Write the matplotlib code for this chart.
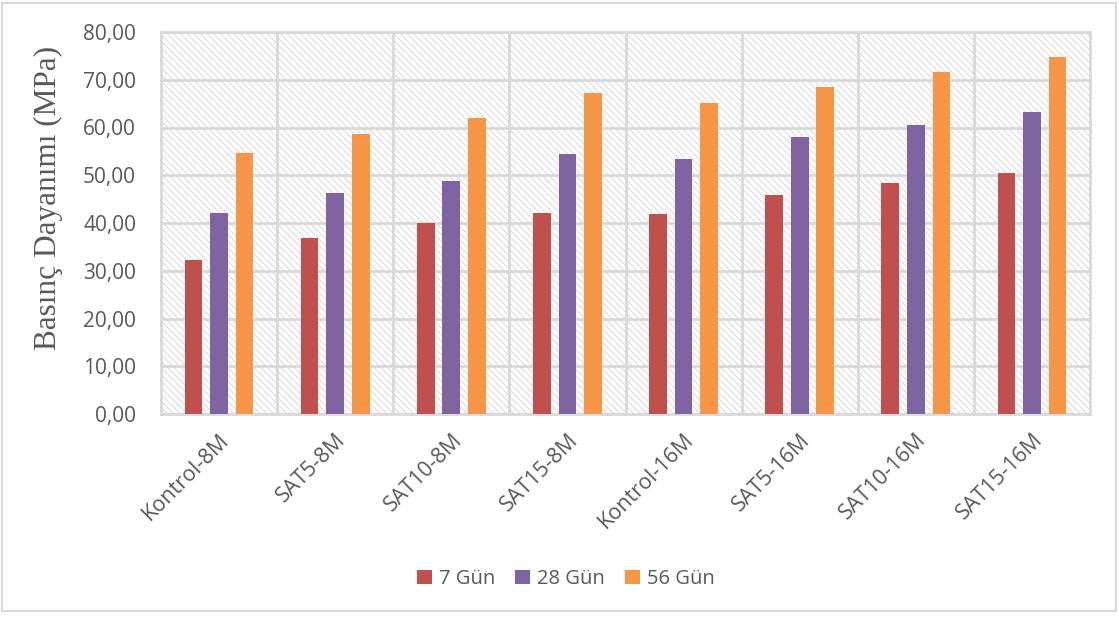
import matplotlib
matplotlib.use("Agg")
import matplotlib.pyplot as plt
import numpy as np
from matplotlib.patches import Rectangle
from matplotlib.ticker import FuncFormatter, MultipleLocator

categories = ["Kontrol-8M", "SAT5-8M", "SAT10-8M", "SAT15-8M",
              "Kontrol-16M", "SAT5-16M", "SAT10-16M", "SAT15-16M"]
series_names = ["7 Gün", "28 Gün", "56 Gün"]
gun7 = [32.3, 36.9, 39.9, 42.0, 41.8, 45.8, 48.3, 50.5]
gun28 = [42.1, 46.3, 48.8, 54.4, 53.5, 58.1, 60.5, 63.3]
gun56 = [54.6, 58.7, 62.0, 67.3, 65.2, 68.5, 71.7, 74.8]
colors = ["#C0504D", "#8064A2", "#F79646"]

plt.rcParams['hatch.linewidth'] = 0.8
fig = plt.figure(figsize=(11.19, 6.19), dpi=100)
W, H = 1119, 619
ax = fig.add_axes([161 / W, 1 - 414 / H, (1090 - 161) / W, (414 - 32) / H])

# figure border
fig.patches.append(Rectangle((2 / W, 8 / H), 1114 / W, 608 / H, transform=fig.transFigure,
                             fill=False, edgecolor="#d9d9d9", linewidth=1.5))

ax.set_facecolor("white")
ax.add_patch(Rectangle((0, 0), 1, 1, transform=ax.transAxes, facecolor="none",
                       edgecolor="#dcdcdc", hatch="\\\\\\\\\\", linewidth=0, zorder=0))

x = np.arange(len(categories))
bw = 0.152
offs = [-0.22, 0.0, 0.22]
for vals, c, o, n in zip([gun7, gun28, gun56], colors, offs, series_names):
    ax.bar(x + o, vals, width=bw, color=c, label=n, zorder=3)

ax.set_xlim(-0.5, len(categories) - 0.5)
ax.set_ylim(0, 80)
ax.yaxis.set_major_locator(MultipleLocator(10))
ax.yaxis.set_major_formatter(FuncFormatter(lambda v, p: f"{v:.2f}".replace(".", ",")))
ax.grid(axis="y", color="#d9d9d9", linewidth=2, zorder=1)
for b in np.arange(0.5, len(categories) - 0.5, 1.0):
    ax.axvline(b, color="#d9d9d9", linewidth=2, zorder=1)
for s in ax.spines.values():
    s.set_color("#d9d9d9")
    s.set_linewidth(2)
ax.set_axisbelow(True)
ax.set_xticks(x)
ax.set_xticklabels(categories, rotation=45, ha="right", rotation_mode="anchor",
                   fontsize=15.5, color="#595959", family="Open Sans")
ax.tick_params(axis="x", length=0, pad=11)
ax.tick_params(axis="y", length=0, pad=18, labelsize=15, labelcolor="#595959")
for lbl in ax.get_yticklabels():
    lbl.set_family("Open Sans")
ax.set_ylabel("Basınç Dayanımı (MPa)", family="Liberation Serif", fontsize=22.5,
              color="#595959")
ax.yaxis.set_label_coords(-0.105, 0.565)

leg = fig.legend(loc="center", bbox_to_anchor=(566 / W, 1 - 579 / H), ncol=3, frameon=False,
                 prop={"family": "Open Sans", "size": 14.5}, handlelength=0.75, handleheight=0.75,
                 columnspacing=1.0, handletextpad=0.35)
for t in leg.get_texts():
    t.set_color("#595959")

fig.savefig("out.png", dpi=100)
